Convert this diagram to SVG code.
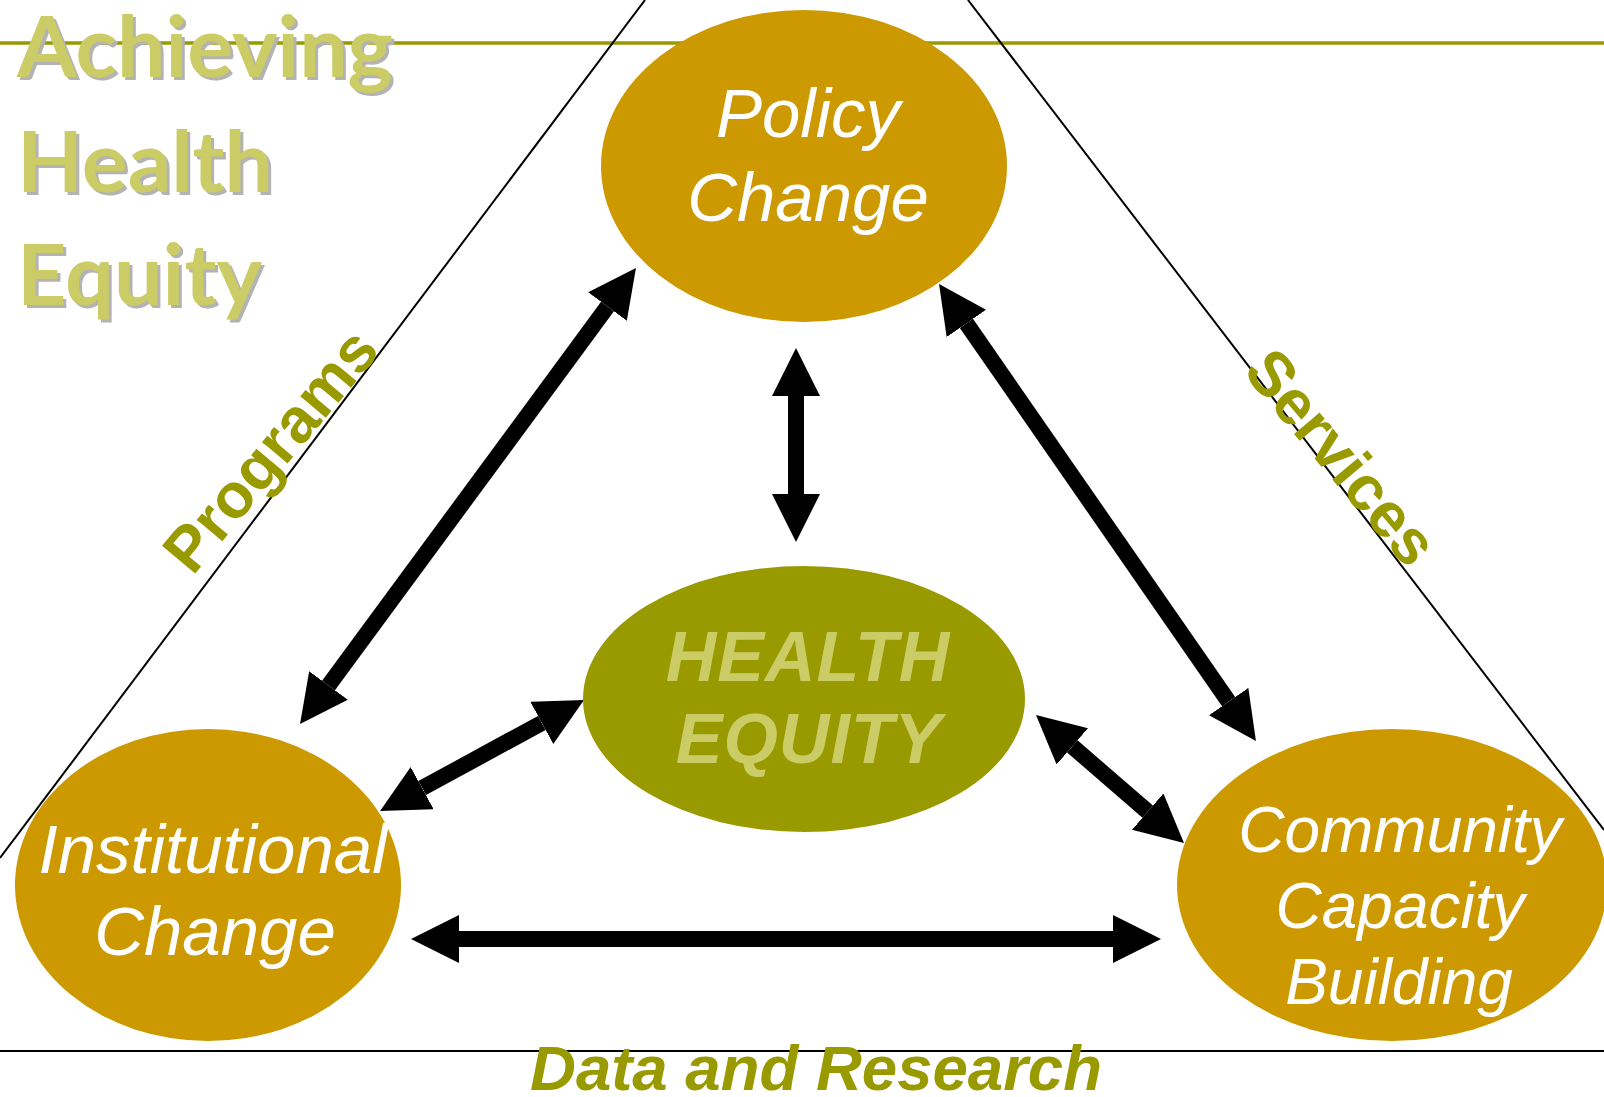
<svg xmlns="http://www.w3.org/2000/svg" width="1604" height="1097" viewBox="0 0 1604 1097">
  <defs>
    <marker id="head" viewBox="0 -24 48 48" refX="0" refY="0" markerWidth="48" markerHeight="48" markerUnits="userSpaceOnUse" orient="auto-start-reverse">
      <path d="M0,-24 L48,0 L0,24 Z" fill="#000"/>
    </marker>
    <style>
      .gold { fill: #CC9900; }
      .olive { fill: #999900; }
      .node { font-family: "Liberation Sans", Arial, sans-serif; font-style: italic; fill: #FFFFFF; text-anchor: middle; }
      .core { font-family: "Liberation Sans", Arial, sans-serif; font-style: italic; font-weight: bold; fill: #CCCC66; text-anchor: middle; font-size: 70px; letter-spacing: 1px; }
      .side { font-family: "Liberation Sans", Arial, sans-serif; font-weight: bold; fill: #999900; text-anchor: middle; font-size: 63px; }
      .title { font-family: Lato, "Open Sans", sans-serif; font-weight: bold; font-size: 84px; }
      .conn { stroke: #000; stroke-width: 16; fill: none; marker-start: url(#head); marker-end: url(#head); }
      .thin { stroke: #000; stroke-width: 2; fill: none; }
    </style>
  </defs>
  <rect width="1604" height="1097" fill="#FFFFFF"/>

  <g id="frame">
    <line x1="0" y1="43" x2="1604" y2="43" stroke="#999900" stroke-width="3.5"/>
    <line x1="0" y1="1051" x2="1604" y2="1051" stroke="#000" stroke-width="2"/>
    <line class="thin" x1="645" y1="0" x2="0" y2="858"/>
    <line class="thin" x1="968" y1="0" x2="1604" y2="830"/>
  </g>

  <g id="title">
    <g fill="#B3B3B3" class="title" transform="translate(3,3)">
      <text x="17" y="77" textLength="376" lengthAdjust="spacingAndGlyphs">Achieving</text>
      <text x="17" y="192" textLength="256" lengthAdjust="spacingAndGlyphs">Health</text>
      <text x="17" y="305" textLength="245" lengthAdjust="spacingAndGlyphs">Equity</text>
    </g>
    <g fill="#CCCC66" class="title">
      <text x="17" y="77" textLength="376" lengthAdjust="spacingAndGlyphs">Achieving</text>
      <text x="17" y="192" textLength="256" lengthAdjust="spacingAndGlyphs">Health</text>
      <text x="17" y="305" textLength="245" lengthAdjust="spacingAndGlyphs">Equity</text>
    </g>
  </g>

  <g id="connectors">
    <line class="conn" x1="796" y1="396" x2="796" y2="494"/>
    <line class="conn" x1="607.5" y1="306.6" x2="328.5" y2="685.4"/>
    <line class="conn" x1="966.4" y1="323.4" x2="1228.6" y2="701.6"/>
    <line class="conn" x1="541.8" y1="722.9" x2="422.2" y2="788.1"/>
    <line class="conn" x1="1072.3" y1="746.4" x2="1147.7" y2="811.6"/>
    <line class="conn" x1="459" y1="939" x2="1113" y2="939"/>
  </g>

  <g id="policy-change">
    <ellipse class="gold" cx="804" cy="166" rx="203" ry="156"/>
    <text class="node" font-size="69" x="808" y="137">Policy</text>
    <text class="node" font-size="69" x="808" y="221">Change</text>
  </g>

  <g id="health-equity">
    <ellipse class="olive" cx="804" cy="699" rx="221" ry="133"/>
    <text class="core" x="808" y="681">HEALTH</text>
    <text class="core" x="809" y="763">EQUITY</text>
  </g>

  <g id="institutional-change">
    <ellipse class="gold" cx="208" cy="885" rx="193" ry="156"/>
    <text class="node" font-size="69" x="213" y="873">Institutional</text>
    <text class="node" font-size="69" x="215" y="955">Change</text>
  </g>

  <g id="community-capacity-building">
    <ellipse class="gold" cx="1392" cy="885" rx="215" ry="156"/>
    <text class="node" font-size="64" x="1400" y="852">Community</text>
    <text class="node" font-size="64" x="1400" y="928">Capacity</text>
    <text class="node" font-size="64" x="1399" y="1004">Building</text>
  </g>

  <g id="labels">
    <text class="side" transform="translate(287,464) rotate(-50)">Programs</text>
    <text class="side" transform="translate(1325,471) rotate(50)">Services</text>
    <text class="side" font-style="italic" font-size="65" x="816" y="1090" textLength="572" lengthAdjust="spacingAndGlyphs">Data and Research</text>
  </g>
</svg>
